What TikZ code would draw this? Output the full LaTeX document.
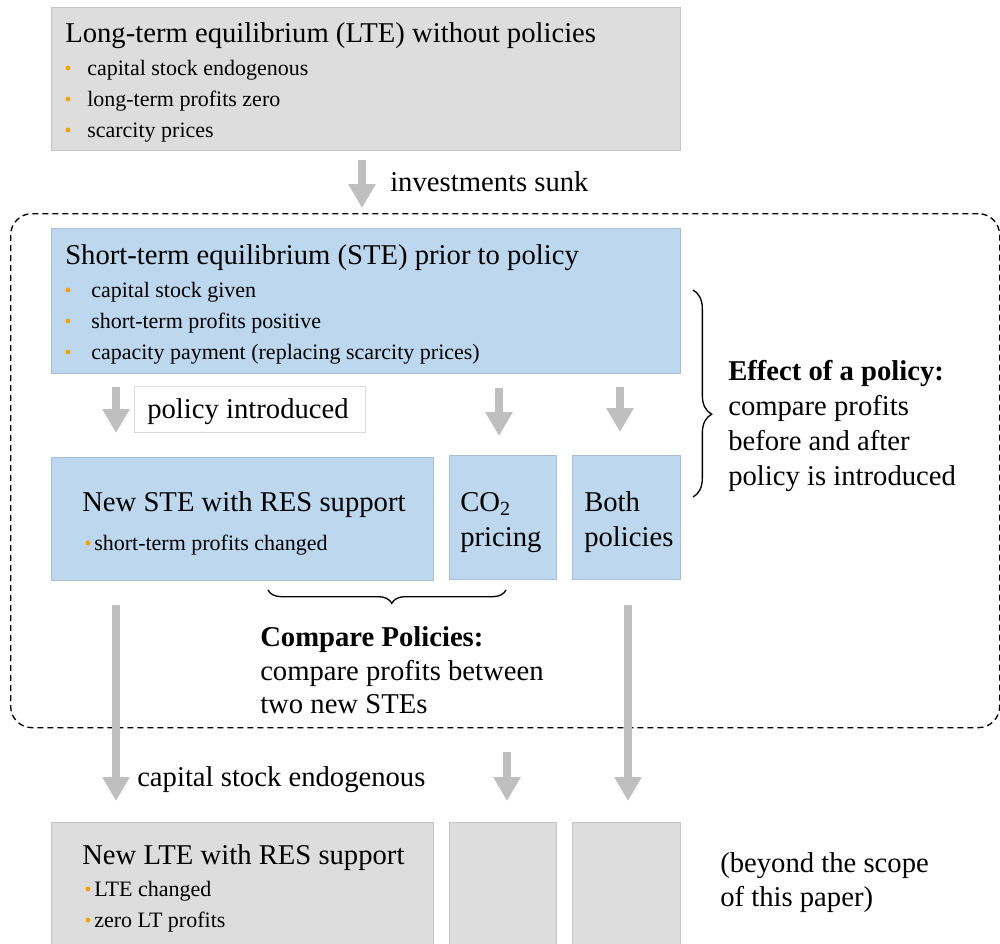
\documentclass[tikz,border=0pt]{standalone}
\usepackage{fontspec}
\setmainfont{Liberation Serif}
\usetikzlibrary{arrows.meta,decorations.pathreplacing}
\definecolor{boxgray}{HTML}{DDDDDD}
\definecolor{boxgrayline}{HTML}{C4C4C4}
\definecolor{boxblue}{HTML}{BDD7EE}
\definecolor{boxblueline}{HTML}{A7BFD6}
\definecolor{arrowgray}{HTML}{BFBFBF}
\definecolor{bulletorange}{HTML}{F7A000}
\definecolor{polline}{HTML}{DADADA}
\tikzset{
  graybox/.style={draw=boxgrayline, fill=boxgray, line width=0.9pt, inner sep=0pt, anchor=north west},
  bluebox/.style={draw=boxblueline, fill=boxblue, line width=0.9pt, inner sep=0pt, anchor=north west},
  whitebox/.style={draw=polline, fill=white, line width=0.8pt, inner sep=0pt, anchor=north west},
  bigtext/.style={font=\fontsize{21.5}{25}\selectfont, inner sep=0pt, anchor=base west},
  smalltext/.style={font=\fontsize{16.5}{19}\selectfont, inner sep=0pt, anchor=base west},
  bul/.style={fill=bulletorange, draw=none, circle, inner sep=0pt, minimum size=3.6pt},
  bigarrow/.style={draw=arrowgray, line width=6pt, -{Triangle[width=19.5pt,length=18pt]}},
  bracestyle/.style={draw=black, line width=1pt, decorate},
}
\begin{document}
\begin{tikzpicture}[x=0.75pt,y=-0.75pt]
\useasboundingbox (0,0) rectangle (1000,943);

% dashed frame
\node[draw=black, dash pattern=on 4.5pt off 3pt, line width=1pt, rounded corners=16pt,
      minimum width=741.75pt, minimum height=385.5pt, inner sep=0pt, anchor=north west] (frame) at (10,213) {};

% boxes
\node[graybox, minimum width=471.75pt, minimum height=107.25pt] (lte) at (51,7) {};
\node[bluebox, minimum width=471.75pt, minimum height=108.75pt] (ste) at (51,228) {};
\node[whitebox, minimum width=173.25pt, minimum height=34.5pt] (pol) at (134,386) {};
\node[bluebox, minimum width=286.5pt, minimum height=92.25pt] (nste) at (51,457) {};
\node[bluebox, minimum width=80.25pt, minimum height=93pt] (co2) at (449,455) {};
\node[bluebox, minimum width=81pt, minimum height=93pt] (both) at (572,455) {};
\node[graybox, minimum width=286.5pt, minimum height=97.5pt] (nlte) at (51,822) {};
\node[graybox, minimum width=80.25pt, minimum height=97.5pt] (blank1) at (449,822) {};
\node[graybox, minimum width=81pt, minimum height=97.5pt] (blank2) at (572,822) {};

% texts: top box
\node[bigtext] (t1) at (65,42) {Long-term equilibrium (LTE) without policies};
\node[smalltext] (t1a) at (87,75) {capital stock endogenous};
\node[smalltext] (t1b) at (87,106) {long-term profits zero};
\node[smalltext] (t1c) at (87,137) {scarcity prices};
\node[bul] (b1a) at (68,68) {};
\node[bul] (b1b) at (68,99) {};
\node[bul] (b1c) at (68,130) {};

\node[bigtext] (inv) at (390,191) {investments sunk};

% STE box
\node[bigtext] (t2) at (65,264) {Short-term equilibrium (STE) prior to policy};
\node[smalltext] (t2a) at (91,297) {capital stock given};
\node[smalltext] (t2b) at (91,328) {short-term profits positive};
\node[smalltext] (t2c) at (91,359) {capacity payment (replacing scarcity prices)};
\node[bul] (b2a) at (68,290) {};
\node[bul] (b2b) at (68,321) {};
\node[bul] (b2c) at (68,352) {};

\node[bigtext] (polt) at (147,418) {policy introduced};

% new STE row
\node[bigtext] (t3) at (82,511) {New STE with RES support};
\node[smalltext] (t3a) at (94,550) {short-term profits changed};
\node[bul] (b3a) at (88,543) {};
\node[bigtext] (t4) at (460,511) {CO\textsubscript{2}};
\node[bigtext] (t4b) at (460,546) {pricing};
\node[bigtext] (t5) at (584,511) {Both};
\node[bigtext] (t5b) at (584,546) {policies};

% braces
\coordinate (bl) at (268,590);
\coordinate (br) at (506,590);
\draw[bracestyle, decoration={brace, mirror, amplitude=10pt, aspect=0.52}] (bl) -- (br);
\coordinate (rt) at (693,290);
\coordinate (rb) at (693,497);
\draw[bracestyle, decoration={brace, amplitude=14pt, aspect=0.6}] (rt) -- (rb);

\node[bigtext] (cp1) at (260,646) {\textbf{Compare Policies:}};
\node[bigtext] (cp2) at (260,680) {compare profits between};
\node[bigtext] (cp3) at (260,713) {two new STEs};

\node[bigtext] (ef1) at (728,380) {\textbf{Effect of a policy:}};
\node[bigtext] (ef2) at (728,415) {compare profits};
\node[bigtext] (ef3) at (728,450) {before and after};
\node[bigtext] (ef4) at (728,485) {policy is introduced};

% bottom
\node[bigtext] (cse) at (137,786) {capital stock endogenous};
\node[bigtext] (t6) at (82,864) {New LTE with RES support};
\node[smalltext] (t6a) at (94,896) {LTE changed};
\node[smalltext] (t6b) at (94,927) {zero LT profits};
\node[bul] (b6a) at (88,889) {};
\node[bul] (b6b) at (88,920) {};
\node[bigtext] (bey1) at (720,872) {(beyond the scope};
\node[bigtext] (bey2) at (720,906) {of this paper)};

% arrows
\coordinate (a1s) at (362,160); \coordinate (a1e) at (362,208);
\coordinate (a2s) at (116,387); \coordinate (a2e) at (116,433);
\coordinate (a3s) at (499,388); \coordinate (a3e) at (499,436);
\coordinate (a4s) at (620,387); \coordinate (a4e) at (620,432);
\coordinate (a5s) at (116,605); \coordinate (a5e) at (116,801);
\coordinate (a6s) at (507,752); \coordinate (a6e) at (507,801);
\coordinate (a7s) at (628,605); \coordinate (a7e) at (628,801);
\draw[bigarrow] (a1s) -- (a1e);
\draw[bigarrow] (a2s) -- (a2e);
\draw[bigarrow] (a3s) -- (a3e);
\draw[bigarrow] (a4s) -- (a4e);
\draw[bigarrow] (a5s) -- (a5e);
\draw[bigarrow] (a6s) -- (a6e);
\draw[bigarrow] (a7s) -- (a7e);
\end{tikzpicture}
\end{document}
